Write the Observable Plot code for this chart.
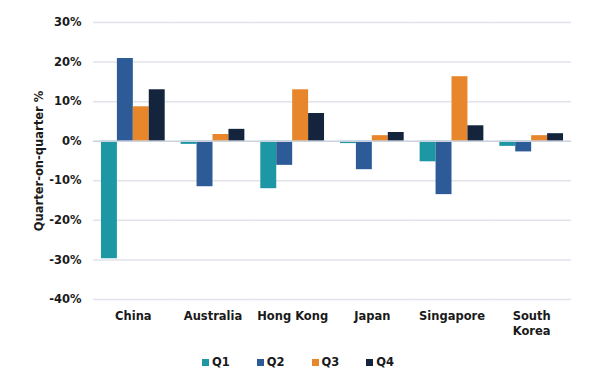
<!DOCTYPE html>
<html><head><meta charset="utf-8">
<script src="https://cdn.jsdelivr.net/npm/d3@7"></script>
<script src="https://cdn.jsdelivr.net/npm/@observablehq/plot@0.6"></script>
<style>
body{margin:0;background:#fff;font-family:"DejaVu Sans",sans-serif;}
#legend{display:flex;justify-content:center;gap:27px;margin-top:15px;padding-left:2px;font-weight:700;font-size:11.5px;color:#1a1a1a;}
#legend span.item{display:flex;align-items:center;gap:3px;}
#legend i{display:inline-block;width:7px;height:7px;}
</style></head><body>
<div id="chart"></div>
<div id="legend"></div>
<script>
const countries = ["China","Australia","Hong Kong","Japan","Singapore","South Korea"];
const quarters = ["Q1","Q2","Q3","Q4"];
const q1 = [-29.7,-0.8,-12.0,-0.6,-5.2,-1.3];
const q2 = [20.9,-11.5,-6.1,-7.2,-13.5,-2.7];
const q3 = [8.7,1.7,13.0,1.4,16.3,1.4];
const q4 = [13.0,3.0,7.0,2.2,3.9,1.9];
const colors = ["#1e97a5","#2d5b97","#e8862b","#15243d"];
const yTicks = [-40,-30,-20,-10,0,10,20,30];

const series = [q1,q2,q3,q4];
const data = [];
countries.forEach((c,i)=>quarters.forEach((q,j)=>data.push({country:c,quarter:q,value:series[j][i]})));

const chart = Plot.plot({
  width:594, height:340,
  marginLeft:93, marginRight:23, marginTop:22, marginBottom:41,
  style:{fontFamily:"DejaVu Sans, sans-serif",fontWeight:"700",fontSize:"11.5px",color:"#1a1a1a"},
  fx:{domain:countries,padding:0,round:false,label:null,axis:null},
  x:{domain:quarters,paddingInner:0,paddingOuter:0.5,round:false,axis:null},
  y:{domain:[-40,30]},
  color:{domain:quarters,range:colors},
  marks:[
    Plot.ruleY(yTicks.filter(d=>d!==0),{stroke:"#e2e3ea",strokeWidth:1.5}),
    Plot.barY(data,{fx:"country",x:"quarter",y:"value",fill:"quarter"}),
    Plot.ruleY([0],{stroke:"#c9d2de",strokeWidth:1.5}),
    Plot.axisY(yTicks,{tickSize:0,tickPadding:12,tickFormat:d=>d+"%",label:"Quarter-on-quarter %",labelAnchor:"center",labelOffset:59,labelArrow:"none",fontSize:11.5}),
    Plot.axisFx({anchor:"bottom",tickSize:0,tickPadding:10,label:null,lineHeight:1.3,tickFormat:d=>d==="South Korea"?"South\nKorea":d,fontSize:11.5})
  ]
});
document.getElementById("chart").appendChild(chart);
const lg=document.getElementById("legend");
quarters.forEach((q,i)=>{const s=document.createElement("span");s.className="item";s.innerHTML=`<i style="background:${colors[i]}"></i>${q}`;lg.appendChild(s);});
</script></body></html>
